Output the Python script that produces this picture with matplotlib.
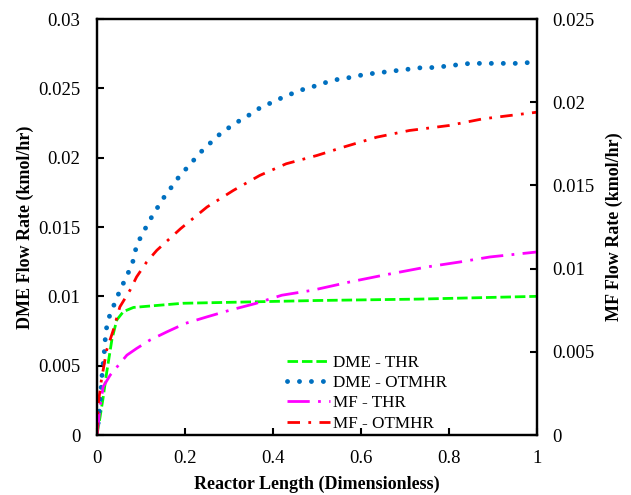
import matplotlib
matplotlib.use("Agg")
import matplotlib.pyplot as plt

plt.rcParams['font.family'] = ['Liberation Serif', 'DejaVu Serif']

# DME - THR (left axis)
x_dme_thr = [0.0, 0.007, 0.014, 0.022, 0.034, 0.045, 0.06, 0.083, 0.12, 0.195, 0.35, 0.5, 0.73, 1.0]
y_dme_thr = [0.0, 0.0013, 0.0027, 0.0045, 0.0069, 0.0083, 0.0089, 0.0092, 0.0093, 0.0095, 0.0096, 0.0097, 0.0098, 0.0100]

# DME - OTMHR (left axis)
x_dme_ot = [0.0, 0.005, 0.007, 0.009, 0.011, 0.013, 0.016, 0.018, 0.02, 0.025, 0.034, 0.045, 0.055, 0.068,
            0.08, 0.091, 0.104, 0.116, 0.13, 0.145, 0.16, 0.175, 0.19, 0.209, 0.227, 0.245, 0.266,
            0.286, 0.307, 0.33, 0.353, 0.375, 0.4, 0.425, 0.45, 0.475, 0.5, 0.527, 0.555, 0.58,
            0.607, 0.634, 0.66, 0.686, 0.713, 0.74, 0.768, 0.793, 0.82, 0.848, 0.875, 0.9, 0.955, 1.0]
y_dme_ot = [0.0, 0.0016, 0.0023, 0.0032, 0.0041, 0.0049, 0.0057, 0.0066, 0.0074, 0.0083, 0.0090, 0.0099, 0.0106, 0.0115,
            0.0123, 0.0138, 0.0145, 0.0153, 0.0160, 0.0168, 0.0175, 0.0181, 0.0188, 0.0194, 0.0201, 0.0207, 0.0213,
            0.0219, 0.0223, 0.0228, 0.0232, 0.0237, 0.0240, 0.0244, 0.0247, 0.0250, 0.0252, 0.0255, 0.0257, 0.0258,
            0.0260, 0.0261, 0.0262, 0.0263, 0.0264, 0.0265, 0.0265, 0.0266, 0.0267, 0.0268, 0.0268, 0.0268, 0.0268, 0.0269]

# MF - THR (right axis)
x_mf_thr = [0.0, 0.007, 0.014, 0.03, 0.068, 0.09, 0.12, 0.159, 0.2, 0.25, 0.302, 0.36, 0.42, 0.49,
            0.575, 0.65, 0.75, 0.825, 0.893, 1.0]
y_mf_thr = [0.0, 0.0017, 0.0029, 0.0036, 0.0048, 0.0052, 0.0057, 0.0062, 0.0067, 0.0071, 0.0075, 0.0079, 0.0084, 0.0087,
            0.0092, 0.0096, 0.0101, 0.0104, 0.0107, 0.0110]

# MF - OTMHR (right axis)
x_mf_ot = [0.0, 0.003, 0.01, 0.022, 0.037, 0.052, 0.075, 0.09, 0.113, 0.136, 0.19, 0.25, 0.31, 0.37,
           0.43, 0.5, 0.56, 0.636, 0.71, 0.8, 0.877, 1.0]
y_mf_ot = [0.0, 0.0019, 0.0033, 0.0051, 0.0063, 0.0077, 0.0087, 0.0095, 0.0104, 0.0111, 0.0124, 0.0137, 0.0147, 0.0156,
           0.0163, 0.0168, 0.0173, 0.0179, 0.0183, 0.0186, 0.0190, 0.0194]

labels = ["DME - THR", "DME - OTMHR", "MF - THR", "MF - OTMHR"]
x_ticks = [0, 0.2, 0.4, 0.6, 0.8, 1]
x_ticklabels = ["0", "0.2", "0.4", "0.6", "0.8", "1"]
yl_ticks = [0, 0.005, 0.01, 0.015, 0.02, 0.025, 0.03]
yl_ticklabels = ["0", "0.005", "0.01", "0.015", "0.02", "0.025", "0.03"]
yr_ticks = [0, 0.005, 0.01, 0.015, 0.02, 0.025]
yr_ticklabels = ["0", "0.005", "0.01", "0.015", "0.02", "0.025"]

fig = plt.figure(figsize=(6.31, 4.95), dpi=100)
ax = fig.add_axes([0.1537, 0.1212, 0.6973, 0.8404])
ax2 = ax.twinx()

l1, = ax.plot(x_dme_thr, y_dme_thr, color='#00FF00', lw=2.0, linestyle=(0, (3.8, 1.4)), label=labels[0])
l2, = ax.plot(x_dme_ot, y_dme_ot, color='#0070C0', lw=3.5, linestyle=(0, (0.01, 2.45)),
              dash_capstyle='round', label=labels[1])
l3, = ax2.plot(x_mf_thr, y_mf_thr, color='#FF00FF', lw=2.0, linestyle=(0, (8, 3, 1, 3)), label=labels[2])
l4, = ax2.plot(x_mf_ot, y_mf_ot, color='#FF0000', lw=2.0, linestyle=(0, (4.5, 3, 1, 3)), label=labels[3])

ax.set_xlim(0, 1)
ax.set_ylim(0, 0.03)
ax2.set_ylim(0, 0.025)
ax.set_xticks(x_ticks)
ax.set_xticklabels(x_ticklabels)
ax.set_yticks(yl_ticks)
ax.set_yticklabels(yl_ticklabels)
ax2.set_yticks(yr_ticks)
ax2.set_yticklabels(yr_ticklabels)

for a in (ax, ax2):
    for s in a.spines.values():
        s.set_linewidth(1.6)
    a.tick_params(direction='in', length=5, width=1.5, labelsize=13.5)
ax.tick_params(axis='y', pad=12)
ax.tick_params(axis='x', pad=11)
ax2.tick_params(axis='y', pad=11)

ax.set_xlabel("Reactor Length (Dimensionless)", fontsize=13, fontweight='bold', labelpad=6)
ax.set_ylabel("DME Flow Rate (kmol/hr)", fontsize=13, fontweight='bold', labelpad=3)
ax2.set_ylabel("MF Flow Rate (kmol/hr)", fontsize=13, fontweight='bold', labelpad=8)

leg = ax.legend(handles=[l1, l2, l3, l4], loc='lower left', bbox_to_anchor=(0.425, 0.0),
                frameon=False, fontsize=12.3, handlelength=2.5, handletextpad=0.15,
                labelspacing=0.25, borderpad=0.2, borderaxespad=0.0)

fig.savefig("out.png", dpi=100)
